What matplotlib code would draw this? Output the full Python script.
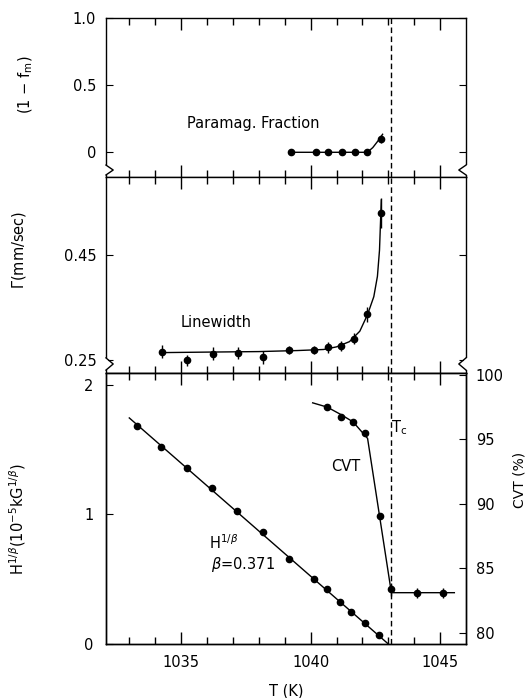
import matplotlib.pyplot as plt
import numpy as np

plt.rcParams['font.family'] = 'DejaVu Sans'
plt.rcParams['mathtext.fontset'] = 'dejavusans'
plt.rcParams['font.size'] = 10.5

Tc = 1043.1

# paramagnetic fraction
T_frac = [1039.25, 1040.19, 1040.68, 1041.2, 1041.7, 1042.19, 1042.73]
frac = [-0.005, -0.005, -0.005, -0.005, -0.005, -0.005, 0.095]
frac_err = [0, 0, 0, 0, 0, 0, 0.03]
T_frac_fit = [1039.25, 1042.19, 1042.4, 1042.6, 1042.78]
frac_fit = [-0.005, -0.005, 0.03, 0.08, 0.13]

# linewidth
T_lw = [1034.27, 1035.21, 1036.23, 1037.18, 1038.17, 1039.18,
        1040.15, 1040.67, 1041.16, 1041.67, 1042.19, 1042.71]
lw = [0.266, 0.249, 0.262, 0.263, 0.255, 0.269,
      0.269, 0.274, 0.277, 0.291, 0.337, 0.531]
lw_err = [0.012, 0.010, 0.012, 0.012, 0.012, 0.008,
          0.008, 0.010, 0.010, 0.010, 0.015, 0.028]
T_lw_fit = [1034.2, 1036.0, 1038.0, 1039.5, 1040.5, 1041.0, 1041.5,
            1041.9, 1042.2, 1042.44, 1042.58, 1042.66, 1042.70, 1042.73]
lw_fit = [0.264, 0.265, 0.266, 0.268, 0.270, 0.275, 0.285,
          0.305, 0.337, 0.371, 0.41, 0.46, 0.515, 0.556]

# H^(1/beta)
T_H = [1033.28, 1034.21, 1035.21, 1036.18, 1037.17, 1038.15, 1039.17,
       1040.13, 1040.62, 1041.13, 1041.57, 1042.10, 1042.64]
H = [1.678, 1.519, 1.354, 1.205, 1.027, 0.865, 0.654,
     0.502, 0.422, 0.324, 0.247, 0.160, 0.069]
T_H_fit = [1033.0, 1043.0]
H_fit = [1.743, 0.0]

# CVT
T_cvt = [1040.64, 1041.19, 1041.64, 1042.11, 1042.68, 1043.1, 1044.1, 1045.1]
cvt = [97.5, 96.74, 96.33, 95.46, 89.05, 83.36, 83.05, 83.05]
cvt_err = [0, 0, 0, 0, 0, 0.5, 0.4, 0.4]
T_cvt_fit = [1040.08, 1040.64, 1041.19, 1041.64, 1042.2, 1043.08, 1043.1, 1045.55]
cvt_fit = [97.83, 97.5, 96.9, 96.35, 95.07, 83.6, 83.1, 83.1]


def style_x(ax, labels):
    ax.set_xlim(1032.1, 1046.0)
    ax.set_xticks([1035, 1040, 1045])
    ax.set_xticks(np.arange(1033, 1046), minor=True)
    ax.tick_params(axis='x', which='both', direction='in', top=True,
                   bottom=True, labelbottom=labels, pad=8)
    ax.tick_params(axis='x', which='major', length=8.5, width=1)
    ax.tick_params(axis='x', which='minor', length=5, width=1)
    for s in ax.spines.values():
        s.set_linewidth(1.0)


def add_break(ax, y0, y1, depth=0.02):
    for x, d in ((0, depth), (1, -depth)):
        ax.plot([x, x], [y0, y1], transform=ax.transAxes, color='white',
                lw=3, clip_on=False, zorder=5, solid_capstyle='butt')
        ax.plot([x, x + d, x], [y0, (y0 + y1) / 2, y1], transform=ax.transAxes,
                color='k', lw=1, clip_on=False, zorder=6)


fig = plt.figure(figsize=(5.31, 6.98), dpi=100)
L, W = 0.1996, 0.678
ax1 = fig.add_axes([L, 0.7464, W, 0.2278])
ax2 = fig.add_axes([L, 0.4656, W, 0.2808])
ax3 = fig.add_axes([L, 0.0774, W, 0.3883])

ebkw = dict(fmt='o', color='k', ms=4.5, elinewidth=1, capsize=0, zorder=3)

# top panel
ax1.errorbar(T_frac, frac, yerr=frac_err, **ebkw)
ax1.plot(T_frac_fit, frac_fit, color='k', lw=1)
ax1.axvline(Tc, color='k', ls=(0, (4, 2.5)), lw=1)
ax1.set_ylim(-0.19, 1.0)
ax1.set_yticks([0, 0.5, 1.0])
ax1.set_yticklabels(['0', '0.5', '1.0'])
ax1.tick_params(axis='y', direction='in', left=True, right=True, length=5, pad=7)
style_x(ax1, False)
ax1.text(1037.8, 0.21, 'Paramag. Fraction', ha='center', va='center')
ax1.set_ylabel(r'(1 $-$ f$_{\rm m}$)')
ax1.yaxis.set_label_coords(-0.197, 0.58)
add_break(ax1, 0.013, 0.075)

# middle panel
ax2.errorbar(T_lw, lw, yerr=lw_err, **ebkw)
ax2.plot(T_lw_fit, lw_fit, color='k', lw=1)
ax2.axvline(Tc, color='k', ls=(0, (4, 2.5)), lw=1)
ax2.set_ylim(0.225, 0.60)
ax2.set_yticks([0.25, 0.45])
ax2.set_yticklabels(['0.25', '0.45'])
ax2.tick_params(axis='y', direction='in', left=True, right=True, length=5, pad=7)
style_x(ax2, False)
ax2.text(1036.37, 0.322, 'Linewidth', ha='center', va='center')
ax2.set_ylabel(r'$\Gamma$(mm/sec)')
ax2.yaxis.set_label_coords(-0.217, 0.63)
add_break(ax2, 0.015, 0.077)

# bottom panel
ax3.errorbar(T_H, H, fmt='o', color='k', ms=4.5, zorder=3)
ax3.plot(T_H_fit, H_fit, color='k', lw=1)
ax3.axvline(Tc, color='k', ls=(0, (4, 2.5)), lw=1)
ax3.set_ylim(0, 2.09)
ax3.set_yticks([0, 1, 2])
ax3.tick_params(axis='y', direction='in', left=True, right=False, length=5, pad=9)
style_x(ax3, True)
ax3.set_xticklabels(['1035', '1040', '1045'])
ax3.set_xlabel('T (K)', labelpad=10)
ax3.set_ylabel(r'H$^{1/\beta}$(10$^{-5}$kG$^{1/\beta}$)')
ax3.yaxis.set_label_coords(-0.217, 0.46)
ax3.text(1036.64, 0.78, r'H$^{1/\beta}$', ha='center', va='center')
ax3.text(1037.41, 0.61, r'$\beta$=0.371', ha='center', va='center')
ax3.text(1041.35, 1.367, 'CVT', ha='center', va='center')
ax3.text(1043.4, 1.668, r'T$_{\rm c}$', ha='center', va='center')

ax4 = ax3.twinx()
ax4.errorbar(T_cvt, cvt, yerr=cvt_err, **ebkw)
ax4.plot(T_cvt_fit, cvt_fit, color='k', lw=1)
ax4.set_ylim(79.12, 100.15)
ax4.set_yticks([80, 85, 90, 95, 100])
ax4.tick_params(axis='y', direction='in', right=True, left=False, length=5, pad=7)
ax4.set_ylabel('CVT (%)', fontsize=10)
ax4.yaxis.set_label_coords(1.13, 0.605)
for s in ax4.spines.values():
    s.set_linewidth(1.0)

fig.savefig('out.png', dpi=100, facecolor='white')
